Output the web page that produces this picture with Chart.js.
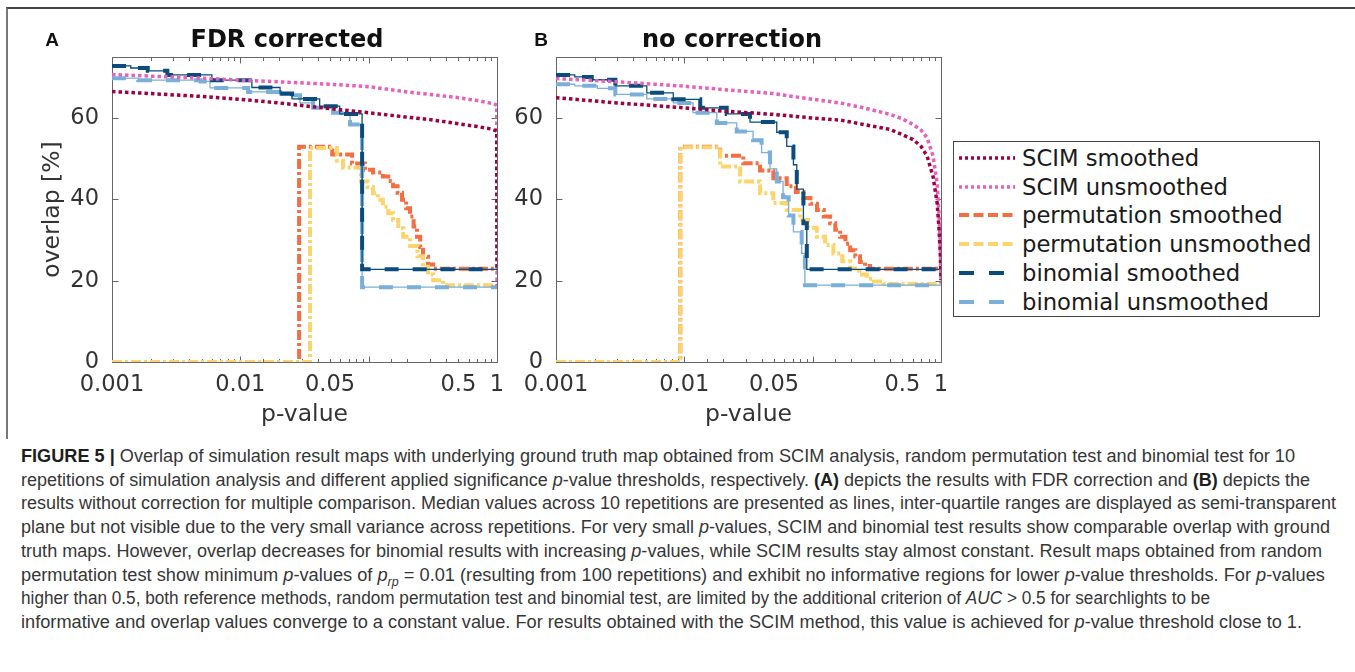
<!DOCTYPE html>
<html>
<head>
<meta charset="utf-8">
<script src="https://cdn.jsdelivr.net/npm/chart.js@4.4.1/dist/chart.umd.min.js"></script>
<style>
html, body { margin: 0; padding: 0; background: #fff; }
#fig { position: relative; width: 1355px; height: 672px; overflow: hidden; font-family: "DejaVu Sans", sans-serif; }
canvas { position: absolute; top: 0; }
.frame { position: absolute; left: 6px; top: 7px; width: 1349px; height: 430px; border-top: 2px solid #444; border-left: 2px solid #777; }
.lbl { position: absolute; transform: translate(-50%, -50%); white-space: nowrap; color: #111; }
.panel { font: bold 19px "Liberation Sans", Arial, sans-serif; }
.title { font: bold 24px "DejaVu Sans", sans-serif; }
#legend { position: absolute; left: 953px; top: 141px; width: 365px; height: 174px; border: 1px solid #444; background: #fff; }
#legend .row { position: absolute; left: 0; height: 28px; width: 100%; }
#legend svg { position: absolute; left: 4px; top: 9px; }
#legend span { position: absolute; left: 68px; top: 0; font: 22.7px "DejaVu Sans", sans-serif; line-height: 28px; color: #1a1a1a; white-space: nowrap; }
#caption { position: absolute; left: 21px; top: 0; font: 17.5px "Liberation Sans Narrow", "Liberation Sans", Arial, sans-serif; color: #363636; }
#caption .cl { position: absolute; left: 0; white-space: nowrap; line-height: 20px; transform-origin: 0 50%; }
#caption b { color: #1e1e1e; }
</style>
</head>
<body>
<div id="fig">
  <div class="frame"></div>
  <canvas id="chartA" width="520" height="440" style="left:0px"></canvas>
  <canvas id="chartB" width="474" height="440" style="left:500px"></canvas>
  <div class="lbl panel" style="left:52px; top:40px">A</div>
  <div class="lbl panel" style="left:541px; top:40px">B</div>
  <div class="lbl title" style="left:287px; top:39px">FDR corrected</div>
  <div class="lbl title" style="left:732px; top:39px">no correction</div>
  <div id="legend"></div>
  <div id="caption"></div>
</div>
<script>
// x values are p-value thresholds, y values are overlap in percent
const xTickLabels = [0.001, 0.01, 0.05, 0.5, 1];
const seriesNames = ['SCIM smoothed', 'SCIM unsmoothed', 'permutation smoothed',
                     'permutation unsmoothed', 'binomial smoothed', 'binomial unsmoothed'];

// panel A: FDR corrected
const aScimP = [0.001, 0.002, 0.005, 0.01, 0.02, 0.05, 0.1, 0.2, 0.3, 0.5, 0.7, 0.9, 0.995, 1];
const aScimSmoothV = [66.5, 66.0, 65.3, 64.6, 63.7, 62.3, 61.3, 60.2, 59.6, 58.6, 57.9, 57.3, 56.8, 22.8];
const aScimRawV = [70.7, 70.3, 69.8, 69.3, 68.9, 68.3, 67.7, 66.4, 65.8, 65.0, 64.3, 63.6, 63.2, 18.7];
const aPermSmoothP = [0.001, 0.0287, 0.052, 0.0743, 0.0937, 0.108, 0.129, 0.142, 0.155, 0.168, 0.182, 0.196, 0.210, 0.224, 0.238, 0.252, 0.265, 0.29, 0.318, 1];
const aPermSmoothV = [0, 52.9, 51.0, 48.8, 47.3, 46.6, 45.6, 44.5, 43.2, 41.6, 39.9, 37.8, 35.8, 33.3, 30.8, 28.3, 25.9, 24.0, 22.9, 22.8];
const aPermRawP = [0.001, 0.0349, 0.0565, 0.0631, 0.0871, 0.098, 0.108, 0.118, 0.129, 0.142, 0.155, 0.170, 0.186, 0.21, 0.24, 0.265, 0.29, 0.318, 0.38, 1];
const aPermRawV = [0, 52.6, 49.5, 47.8, 44.4, 43.0, 41.5, 39.9, 38.2, 36.6, 34.9, 32.9, 30.8, 28.5, 26.0, 23.4, 21.5, 20.1, 18.9, 18.5];
const aBinomSmoothP = [0.001, 0.0014, 0.0019, 0.0027, 0.006, 0.0123, 0.0204, 0.0253, 0.0415, 0.0595, 0.0889, 1];
const aBinomSmoothV = [72.8, 72.3, 71.6, 70.6, 69.3, 67.5, 66.0, 64.7, 62.9, 61.0, 22.8, 22.8];
const aBinomRawP = [0.001, 0.0016, 0.0049, 0.0058, 0.0115, 0.0204, 0.0292, 0.0369, 0.0528, 0.0716, 0.0889, 1];
const aBinomRawV = [69.8, 69.3, 69.0, 67.4, 66.4, 65.6, 63.7, 62.5, 61.3, 58.4, 18.4, 18.4];

// panel B: no correction
const bScimP = [0.001, 0.003, 0.00926, 0.02, 0.0491, 0.1, 0.1636, 0.25, 0.401, 0.5, 0.606, 0.7, 0.78, 0.867, 0.933, 0.967, 0.99, 1];
const bScimSmoothV = [65.0, 63.7, 62.6, 61.7, 60.9, 60.0, 59.5, 58.4, 57.2, 55.9, 54.7, 53.0, 50.6, 45.6, 39.1, 32.5, 25.9, 20.1];
const bScimRawV = [69.7, 68.9, 67.9, 67.0, 66.0, 64.6, 63.7, 62.5, 60.9, 59.8, 58.4, 57.0, 55.1, 50.6, 44.0, 35.8, 27.0, 19.3];
const bPermSmoothP = [0.001, 0.0093, 0.019, 0.0288, 0.0389, 0.0494, 0.0628, 0.0740, 0.0847, 0.096, 0.108, 0.122, 0.1367, 0.150, 0.1636, 0.18, 0.196, 0.215, 0.234, 0.256, 0.28, 1];
const bPermSmoothV = [0, 52.9, 50.7, 48.9, 47.1, 45.2, 43.2, 41.8, 40.3, 38.9, 37.4, 35.8, 34.1, 32.5, 30.8, 29.1, 27.5, 26.0, 24.6, 23.6, 22.9, 22.8];
const bPermRawP = [0.001, 0.0093, 0.019, 0.0272, 0.0389, 0.0494, 0.0628, 0.0798, 0.092, 0.1076, 0.125, 0.145, 0.17, 0.196, 0.23, 0.264, 0.30, 0.356, 1];
const bPermRawV = [0, 52.8, 48.1, 44.4, 41.5, 39.1, 37.4, 34.9, 33.0, 30.8, 28.8, 26.7, 24.8, 23.0, 21.5, 20.5, 19.8, 19.2, 18.9];
const bBinomSmoothP = [0.001, 0.0014, 0.0019, 0.0029, 0.0051, 0.0082, 0.0133, 0.0214, 0.0325, 0.0525, 0.0628, 0.0708, 0.0752, 0.0847, 0.090, 1];
const bBinomSmoothV = [70.6, 70.1, 69.4, 67.9, 66.2, 64.6, 62.5, 61.0, 59.0, 56.5, 53.0, 48.5, 42.5, 34.1, 22.8, 22.8];
const bBinomRawP = [0.001, 0.0014, 0.0021, 0.0029, 0.0051, 0.0082, 0.0117, 0.0179, 0.0256, 0.0343, 0.040, 0.0465, 0.0525, 0.0588, 0.065, 0.0708, 0.0821, 0.087, 1];
const bBinomRawV = [68.3, 67.9, 67.3, 65.8, 64.7, 63.7, 61.3, 58.8, 56.7, 54.5, 51.5, 47.5, 44.4, 40.5, 36.0, 32.0, 26.7, 18.9, 18.9];

// line styles, same order as seriesNames
const colors = ['#9e0142', '#e660bf', '#f46d43', '#fdd46c', '#0b4c7c', '#79afd9'];
const dots = [3.5, 3];
const dashDot = [10, 3, 3, 3];
const longDash = [14, 14];

Chart.defaults.font.family = '"DejaVu Sans", sans-serif';
Chart.defaults.color = '#333';

function pts(p, v) {
  return p.map((x, i) => ({ x: x, y: v[i] }));
}

function ds(data, color, width, dash, stepped) {
  return {
    data: data,
    borderColor: color,
    borderWidth: width,
    borderDash: dash,
    borderCapStyle: 'butt',
    stepped: stepped,
    pointRadius: 0,
    fill: false,
    tension: 0
  };
}

// axes box with inward tick marks, like the original figure
const boxTicks = {
  id: 'boxTicks',
  beforeDatasetsDraw(chart) {
    const { ctx, chartArea: a, scales: { x, y } } = chart;
    ctx.save();
    ctx.strokeStyle = '#666';
    ctx.lineWidth = 1;
    const l = Math.round(a.left) + 0.5, r = Math.round(a.right) + 0.5;
    const t = Math.round(a.top) + 0.5, b = Math.round(a.bottom) + 0.5;
    ctx.strokeRect(l, t, r - l, b - t);
    ctx.beginPath();
    x.ticks.forEach(tk => {
      const px = Math.round(x.getPixelForValue(tk.value)) + 0.5;
      const e = Math.log10(tk.value);
      const len = Math.abs(e - Math.round(e)) < 1e-6 ? 6 : 3.5;
      ctx.moveTo(px, b); ctx.lineTo(px, b - len);
      ctx.moveTo(px, t); ctx.lineTo(px, t + len);
    });
    y.ticks.forEach(tk => {
      const py = Math.round(y.getPixelForValue(tk.value)) + 0.5;
      ctx.moveTo(l, py); ctx.lineTo(l + 6, py);
      ctx.moveTo(r, py); ctx.lineTo(r - 6, py);
    });
    ctx.stroke();
    ctx.restore();
  }
};

function makePanel(id, d, yWidth, showYTitle, padRight) {
  const datasets = [
    ds(pts(d.scimP, d.scimSmoothV), colors[0], 3.5, dots, false),
    ds(pts(d.scimP, d.scimRawV), colors[1], 3.5, dots, false),
    ds(pts(d.binomSmoothP, d.binomSmoothV), colors[4], 4, longDash, true),
    ds(pts(d.binomSmoothP, d.binomSmoothV), colors[4], 1.3, [], true),
    ds(pts(d.binomRawP, d.binomRawV), colors[5], 4, longDash, true),
    ds(pts(d.binomRawP, d.binomRawV), colors[5], 1.3, [], true),
    ds(pts(d.permRawP, d.permRawV), colors[3], 4, dashDot, true),
    ds(pts(d.permSmoothP, d.permSmoothV), colors[2], 4, dashDot, true)
  ];
  return new Chart(document.getElementById(id), {
    type: 'line',
    data: { datasets: datasets },
    options: {
      responsive: false,
      animation: false,
      events: [],
      layout: { padding: { left: 0, right: padRight, top: 57, bottom: 0 } },
      plugins: { legend: { display: false }, tooltip: { enabled: false } },
      scales: {
        x: {
          type: 'logarithmic',
          min: 0.001,
          max: 1,
          grid: { display: false, drawTicks: false },
          border: { display: false },
          afterFit: s => { s.height = 78; },
          ticks: {
            autoSkip: false,
            maxRotation: 0,
            padding: 10,
            color: '#333',
            font: { size: 22.5 },
            callback: v => {
              const hit = xTickLabels.find(t => Math.abs(t - v) / t < 1e-6);
              return hit === undefined ? '' : String(hit);
            }
          },
          title: { display: true, text: 'p-value', color: '#333', font: { size: 23.5 }, padding: { top: 0, bottom: 11 } }
        },
        y: {
          min: 0,
          max: 75,
          grid: { display: false, drawTicks: false },
          border: { display: false },
          afterFit: s => { s.width = yWidth; },
          ticks: { stepSize: 20, includeBounds: false, padding: 13, color: '#333', font: { size: 22.5 } },
          title: { display: showYTitle, text: 'overlap [%]', color: '#333', font: { size: 23.5 }, padding: { top: 39, bottom: 0 } }
        }
      }
    },
    plugins: [boxTicks]
  });
}

makePanel('chartA', {
  scimP: aScimP, scimSmoothV: aScimSmoothV, scimRawV: aScimRawV,
  permSmoothP: aPermSmoothP, permSmoothV: aPermSmoothV, permRawP: aPermRawP, permRawV: aPermRawV,
  binomSmoothP: aBinomSmoothP, binomSmoothV: aBinomSmoothV, binomRawP: aBinomRawP, binomRawV: aBinomRawV
}, 112, true, 23);

makePanel('chartB', {
  scimP: bScimP, scimSmoothV: bScimSmoothV, scimRawV: bScimRawV,
  permSmoothP: bPermSmoothP, permSmoothV: bPermSmoothV, permRawP: bPermRawP, permRawV: bPermRawV,
  binomSmoothP: bBinomSmoothP, binomSmoothV: bBinomSmoothV, binomRawP: bBinomRawP, binomRawV: bBinomRawV
}, 56, false, 33);

// legend
const legendDash = ['3 3', '3 3', '10 4.5', '10 4.5', '15 15', '15 15'];
const legend = document.getElementById('legend');
seriesNames.forEach((name, i) => {
  const row = document.createElement('div');
  row.className = 'row';
  row.style.top = (2 + i * 28.7) + 'px';
  row.innerHTML = '<svg width="58" height="10"><line x1="1" y1="5" x2="57" y2="5" stroke="' + colors[i] +
    '" stroke-width="' + (i < 2 ? 3.5 : 4) + '" stroke-dasharray="' + legendDash[i] + '"/></svg><span>' + name + '</span>';
  legend.appendChild(row);
});

// caption, one entry per printed line with the right edge it reaches
const captionLines = [
  ['<b>FIGURE 5 |</b> Overlap of simulation result maps with underlying ground truth map obtained from SCIM analysis, random permutation test and binomial test for 10', 1295],
  ['repetitions of simulation analysis and different applied significance <i>p</i>-value thresholds, respectively. <b>(A)</b> depicts the results with FDR correction and <b>(B)</b> depicts the', 1310],
  ['results without correction for multiple comparison. Median values across 10 repetitions are presented as lines, inter-quartile ranges are displayed as semi-transparent', 1336],
  ['plane but not visible due to the very small variance across repetitions. For very small <i>p</i>-values, SCIM and binomial test results show comparable overlap with ground', 1330],
  ['truth maps. However, overlap decreases for binomial results with increasing <i>p</i>-values, while SCIM results stay almost constant. Result maps obtained from random', 1322],
  ['permutation test show minimum <i>p</i>-values of <i>p<sub style="font-size:12px">rp</sub></i> = 0.01 (resulting from 100 repetitions) and exhibit no informative regions for lower <i>p</i>-value thresholds. For <i>p</i>-values', 1325],
  ['higher than 0.5, both reference methods, random permutation test and binomial test, are limited by the additional criterion of <i>AUC</i> &gt; 0.5 for searchlights to be', 1210],
  ['informative and overlap values converge to a constant value. For results obtained with the SCIM method, this value is achieved for <i>p</i>-value threshold close to 1.', 1302]
];
const caption = document.getElementById('caption');
captionLines.forEach((ln, i) => {
  const el = document.createElement('div');
  el.className = 'cl';
  el.style.top = (446 + i * 23.7) + 'px';
  el.innerHTML = ln[0];
  caption.appendChild(el);
  const w = el.getBoundingClientRect().width;
  el.style.transform = 'scaleX(' + ((ln[1] - 21) / w).toFixed(4) + ')';
});
</script>
</body>
</html>
